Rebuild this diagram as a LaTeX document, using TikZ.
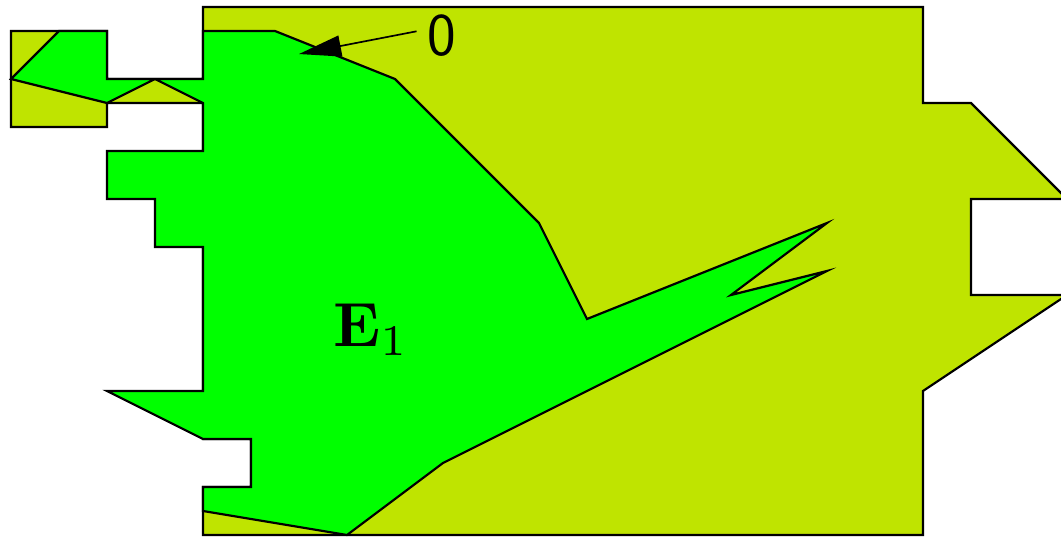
\documentclass[tikz,border=0pt]{standalone}
\usepackage{tikz}
\usetikzlibrary{arrows.meta}
\usepackage{xcolor}
\usepackage{amsmath}
\definecolor{outerlime}{RGB}{191,228,0}
\definecolor{innergreen}{RGB}{0,255,0}
\newcommand{\bigtext}{\fontsize{36}{43}\selectfont}

\begin{document}
\begin{tikzpicture}[line width=1.3pt, line join=miter]
  \useasboundingbox (-0.229,-0.021) rectangle (21.875,11.146);
  % outer region
  \draw[fill=outerlime] (0,8.5) -- (0,10.5) -- (2,10.5) -- (2,9.5) -- (4,9.5)
    -- (4,11) -- (19,11) -- (19,9) -- (20,9) -- (22,7) -- (20,7) -- (20,5)
    -- (22,5) -- (19,3) -- (19,0) -- (4,0) -- (4,1) -- (5,1) -- (5,2)
    -- (4,2) -- (4,9) -- (2,9) -- (2,8.5) -- cycle;
  % the set E_1
  \draw[fill=innergreen] (4,10.5) -- (5.5,10.5) -- (8,9.5) -- (11,6.5)
    -- (12,4.5) -- (17,6.5) -- (15,5) -- (17,5.5) -- (9,1.5) -- (7,0)
    -- (4,0.5) -- (4,1) -- (5,1) -- (5,2) -- (4,2) -- (2,3) -- (4,3)
    -- (4,6) -- (3,6) -- (3,7) -- (2,7) -- (2,8) -- (4,8) -- (4,9)
    -- (3,9.5) -- (2,9) -- (0,9.5) -- (1,10.5) -- (2,10.5) -- (2,9.5)
    -- (4,9.5) -- cycle;
  \node[scale=3.7] (eone) at (7.5,4.28) {$\mathbf{E}_1$};
  \node[font=\bigtext\sffamily, inner sep=6pt] (zero) at (8.98,10.4) {0};
  \coordinate (tip) at (6,10.02);
  \draw[line width=1pt, -{Triangle[length=25pt,width=12.5pt]}] (zero.170) -- (tip);
\end{tikzpicture}
\end{document}
